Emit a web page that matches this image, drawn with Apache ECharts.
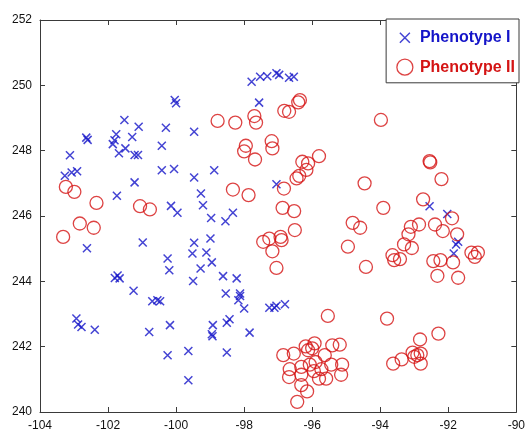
<!DOCTYPE html>
<html><head><meta charset="utf-8">
<script src="https://cdn.jsdelivr.net/npm/echarts@6/dist/echarts.min.js"></script>
<style>html,body{margin:0;padding:0;background:#fff}#c{width:528px;height:432px}</style>
</head><body><div id="c"></div>
<script>
var xTicks = [-104,-102,-100,-98,-96,-94,-92,-90];
var yTicks = [240,242,244,246,248,250,252];
var seriesNames = ['Phenotype I','Phenotype II'];
var phenotype1 = [
[-100.04,249.55],[-100.0,249.45],[-101.52,248.94],[-101.10,248.73],[-100.30,248.70],[-99.47,248.58],
[-102.64,248.40],[-102.60,248.33],[-101.76,248.50],[-101.81,248.32],[-101.86,248.20],[-101.29,248.42],
[-101.49,248.07],[-100.42,248.15],[-103.12,247.86],[-101.68,247.92],[-101.22,247.87],[-101.12,247.87],
[-103.27,247.23],[-103.07,247.33],[-102.91,247.37],[-100.42,247.40],[-100.06,247.44],[-99.47,247.18],
[-101.22,247.03],[-101.74,246.62],[-100.15,246.31],[-99.96,246.10],[-100.98,245.19],[-102.62,245.01],
[-99.47,245.18],[-99.52,244.85],[-100.25,244.70],[-100.20,244.34],[-101.80,244.10],[-101.72,244.18],
[-101.66,244.09],[-101.25,243.71],[-100.70,243.39],[-100.55,243.42],[-100.47,243.39],[-99.50,244.01],
[-102.93,242.86],[-102.88,242.68],[-102.78,242.60],[-102.39,242.52],[-100.79,242.45],[-100.18,242.66],
[-100.25,241.74],[-99.64,241.87],[-99.64,240.97],[-97.78,250.11],[-97.53,250.26],[-97.32,250.28],
[-97.05,250.37],[-96.97,250.32],[-96.68,250.23],[-96.54,250.26],[-97.56,249.47],[-98.88,247.40],
[-99.27,246.69],[-99.21,246.33],[-98.97,245.94],[-98.55,245.84],[-98.33,246.10],[-97.05,246.97],
[-98.99,245.31],[-99.11,244.88],[-98.95,244.58],[-99.28,244.39],[-98.62,244.16],[-98.22,244.09],
[-98.54,243.63],[-98.12,243.63],[-98.12,243.55],[-98.17,243.42],[-98.00,243.17],[-97.26,243.19],
[-97.11,243.19],[-97.05,243.25],[-96.80,243.30],[-98.92,242.66],[-98.95,242.38],[-98.93,242.32],
[-98.51,242.73],[-98.43,242.84],[-97.84,242.43],[-98.51,241.82],[-92.55,246.30],[-92.03,246.06],
[-91.71,245.21],[-91.77,245.13],[-91.84,244.85]
];
var phenotype2 = [
[-103.24,246.89],[-102.99,246.74],[-102.34,246.40],[-101.06,246.30],[-100.77,246.20],[-102.83,245.77],
[-102.42,245.64],[-103.32,245.36],[-98.78,248.91],[-98.26,248.86],[-97.70,249.06],[-97.65,248.86],
[-96.82,249.22],[-96.68,249.19],[-96.41,249.48],[-96.36,249.55],[-97.95,248.15],[-98.00,247.98],
[-97.19,248.29],[-97.17,248.07],[-97.68,247.73],[-96.29,247.66],[-96.12,247.61],[-95.80,247.83],
[-96.17,247.41],[-96.46,247.15],[-96.38,247.23],[-98.33,246.81],[-97.87,246.64],[-96.83,246.84],
[-96.87,246.25],[-96.53,246.15],[-96.51,245.57],[-97.44,245.21],[-97.26,245.31],[-96.93,245.36],
[-96.90,245.26],[-97.17,244.92],[-97.05,244.41],[-94.81,245.79],[-94.95,245.06],[-93.98,248.94],
[-92.55,247.68],[-92.53,247.64],[-94.46,247.00],[-92.20,247.13],[-93.91,246.25],[-92.74,246.51],
[-91.89,245.93],[-92.39,245.74],[-92.16,245.54],[-91.74,245.44],[-92.86,245.74],[-93.10,245.67],
[-93.17,245.44],[-93.30,245.13],[-93.07,245.02],[-93.64,244.80],[-93.59,244.65],[-93.42,244.68],
[-94.59,245.64],[-94.42,244.44],[-92.44,244.62],[-92.23,244.65],[-91.86,244.58],[-91.32,244.88],
[-91.13,244.88],[-91.22,244.75],[-92.32,244.17],[-91.71,244.11],[-93.80,242.86],[-92.29,242.40],
[-92.83,242.22],[-93.05,241.82],[-92.91,241.74],[-92.81,241.79],[-93.00,241.69],[-93.37,241.61],
[-93.62,241.48],[-92.81,241.48],[-95.54,242.94],[-96.85,241.74],[-96.54,241.79],[-96.19,242.01],
[-95.93,242.10],[-96.12,241.89],[-95.41,242.04],[-95.19,242.06],[-95.63,241.74],[-96.66,241.31],
[-96.32,241.38],[-96.07,241.45],[-95.90,241.53],[-95.73,241.31],[-95.44,241.45],[-95.12,241.45],
[-96.68,241.07],[-96.32,241.14],[-95.80,241.02],[-95.59,241.02],[-95.15,241.14],[-96.32,240.82],
[-96.15,240.63],[-96.44,240.31],[-96.00,241.95],[-95.95,241.25]
];

var BLUE = '#1414c8', RED = '#d41414', AX = '#3a3a3a';
var XPATH = 'path://M0,0L10,10M0,10L10,0';
var XLEG = 'path://M3,3L13,13M3,13L13,3M0,0M16,16';
var font = 'Liberation Sans, Arial, Helvetica, sans-serif';
var chart = echarts.init(document.getElementById('c'));
function axisBase(show){
  return {
    axisLine:{show:true,onZero:false,lineStyle:{color:AX,width:1}},
    axisTick:{show:true,inside:true,length:5,lineStyle:{color:AX}},
    splitLine:{show:false},
    axisLabel:{show:show,color:'#111',fontSize:12,fontFamily:font,margin:8}
  };
}
chart.setOption({
  animation:false,
  backgroundColor:'#fff',
  grid:{left:40,right:9,top:20,bottom:20,containLabel:false},
  xAxis:[
    Object.assign({type:'value',position:'bottom',min:xTicks[0],max:xTicks[xTicks.length-1],interval:2},axisBase(true)),
    Object.assign({type:'value',position:'top',min:xTicks[0],max:xTicks[xTicks.length-1],interval:2},axisBase(false))
  ],
  yAxis:[
    Object.assign({type:'value',position:'left',min:yTicks[0],max:yTicks[yTicks.length-1],interval:2},axisBase(true)),
    Object.assign({type:'value',position:'right',min:yTicks[0],max:yTicks[yTicks.length-1],interval:2},axisBase(false))
  ],
  legend:{
    orient:'vertical',right:9,top:19,
    backgroundColor:'#fff',borderColor:AX,borderWidth:1,borderRadius:0,
    padding:[10,4,7,10],itemGap:12,itemWidth:16,itemHeight:16,
    textStyle:{fontSize:16,fontWeight:'bold',fontFamily:font,padding:[0,0,0,2]},
    data:[
      {name:seriesNames[0],icon:XLEG,itemStyle:{color:'rgba(0,0,0,0)',borderColor:BLUE,borderWidth:1.5},textStyle:{color:BLUE}},
      {name:seriesNames[1],icon:'circle',itemStyle:{color:'rgba(0,0,0,0)',borderColor:RED,borderWidth:1.3},textStyle:{color:RED}}
    ]
  },
  series:[
    {name:seriesNames[0],type:'scatter',xAxisIndex:0,yAxisIndex:0,data:phenotype1,
     symbol:XPATH,symbolSize:8,
     itemStyle:{color:'rgba(0,0,0,0)',borderColor:BLUE,borderWidth:1.5}},
    {name:seriesNames[1],type:'scatter',xAxisIndex:0,yAxisIndex:0,data:phenotype2,
     symbol:'circle',symbolSize:13,
     itemStyle:{color:'rgba(0,0,0,0)',borderColor:RED,borderWidth:1.3}}
  ]
});
</script></body></html>
